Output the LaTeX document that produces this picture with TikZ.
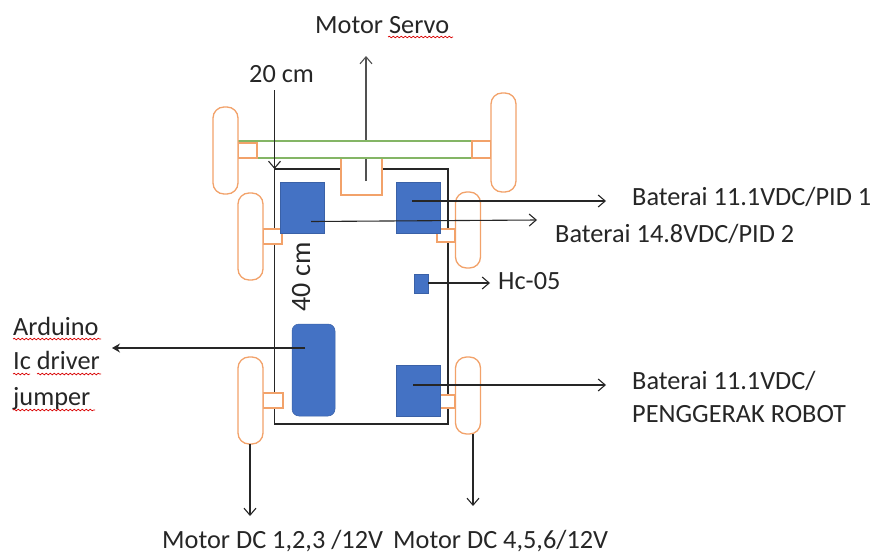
\documentclass[tikz,border=0pt]{standalone}
\usepackage{fontspec}
\setmainfont{Carlito}
\usetikzlibrary{arrows.meta,decorations.pathmorphing}
\definecolor{ors}{HTML}{F2A26A}
\definecolor{blu}{HTML}{4472C4}
\definecolor{grn}{HTML}{84B565}
\definecolor{ink}{HTML}{262626}
\tikzset{
  wheel/.style={draw=ors,fill=white,line width=1.3pt,rounded corners=11pt,minimum width=25pt,inner sep=0pt,outer sep=0pt},
  stub/.style={draw=ors,fill=white,line width=1.3pt,inner sep=0pt,outer sep=0pt},
  battery/.style={fill=blu,draw=blu!85!black,line width=.5pt,inner sep=0pt,outer sep=0pt,minimum width=44pt,minimum height=51pt},
  chassis/.style={draw=ink,line width=1.2pt,inner sep=0pt,outer sep=0pt},
  lbl/.style={text=ink,font=\fontsize{26.3pt}{28pt}\selectfont,inner sep=0pt,anchor=base west},
  conn/.style={draw=ink,line width=1.1pt,-{Straight Barb[length=7pt,width=12pt,line width=1.1pt]}},
  spell/.style={draw=red!85!black,line width=.7pt,decorate,decoration={snake,amplitude=.8pt,segment length=4pt}}
}
\begin{document}
\begin{tikzpicture}[x=1pt,y=-1pt]
\useasboundingbox (0,0) rectangle (877,554);
% chassis
\node[chassis,minimum width=173.5pt,minimum height=255pt] (body) at (361.25,296.5) {};
% servo box
\node[stub,minimum width=41pt,minimum height=37pt] (servo) at (361.5,176.5) {};
% servo arrow
\coordinate (servoA) at (366,181);
\coordinate (servoB) at (366,56);
\draw[conn,draw=ink!80] (servoA) -- (servoB);
% axle stubs on the body
\node[stub,minimum width=19pt,minimum height=15pt] (s3) at (272.5,236.5) {};
\node[stub,minimum width=18pt,minimum height=13pt] (s4) at (446,235.5) {};
\node[stub,minimum width=20pt,minimum height=15pt] (s5) at (273,400.5) {};
\node[stub,minimum width=18pt,minimum height=13pt] (s6) at (446,401.5) {};
% front axle
\node[draw=grn,fill=white,line width=1.2pt,inner sep=0pt,outer sep=0pt,minimum width=234pt,minimum height=17pt] (axle) at (355,149.5) {};
\node[stub,minimum width=19pt,minimum height=15pt] (s1) at (247.5,150.5) {};
\node[stub,minimum width=19pt,minimum height=17pt] (s2) at (481.5,149.5) {};
% wheels
\node[wheel,minimum height=87pt] (w1) at (225.5,150.5) {};
\node[wheel,minimum height=99pt] (w2) at (503.5,142.5) {};
\node[wheel,minimum height=87pt] (w3) at (250.5,236.5) {};
\node[wheel,minimum height=76pt] (w4) at (468,230) {};
\node[wheel,minimum height=87pt] (w5) at (250.5,400.5) {};
\node[wheel,minimum height=77pt] (w6) at (468,395.5) {};
% components
\node[battery] (b1) at (302,207.5) {};
\node[battery] (b2) at (418,207.5) {};
\node[battery] (b3) at (418,390.5) {};
\node[fill=blu,draw=blu!85!black,line width=.5pt,inner sep=0pt,outer sep=0pt,minimum width=14pt,minimum height=19pt] (hc) at (421,283.5) {};
\node[fill=blu,draw=blu!85!black,line width=.5pt,rounded corners=7pt,inner sep=0pt,outer sep=0pt,minimum width=43pt,minimum height=92pt] (ard) at (313.5,370) {};
% connector ends
\coordinate (a1) at (412,201); \coordinate (a2) at (606,201);
\coordinate (c1) at (311,221.5); \coordinate (c2) at (537,220);
\coordinate (d1) at (428,283); \coordinate (d2) at (490,283);
\coordinate (e1) at (305,348); \coordinate (e2) at (112,348);
\coordinate (f1) at (413,385); \coordinate (f2) at (606,385);
\coordinate (g2) at (250,516); \coordinate (h2) at (473,506);
\coordinate (dim1) at (274.5,90); \coordinate (dim2) at (274.5,169);
\draw[conn] (a1) -- (a2);
\draw[conn] (c1) -- (c2);
\draw[conn] (d1) -- (d2);
\draw[draw=ink,line width=1.1pt,-{Stealth[length=8pt,width=9pt]}] (e1) -- (e2);
\draw[conn] (f1) -- (f2);
\draw[conn] (w5.south -| g2) -- (g2);
\draw[conn] (w6.south -| h2) -- (h2);
\draw[conn] (dim1) -- (dim2);
% labels
\node[lbl] (tServo) at (315,33) {Motor Servo};
\node[lbl] (t20) at (249,82) {20 cm};
\node[lbl] (tB1) at (632,205) {Baterai 11.1VDC/PID 1};
\node[lbl] (tB2) at (555,242) {Baterai 14.8VDC/PID 2};
\node[lbl] (tHc) at (498,289) {Hc-05};
\node[lbl] (tB3) at (632,389) {Baterai 11.1VDC/};
\node[lbl] (tB4) at (632,422) {PENGGERAK ROBOT};
\node[lbl] (tA1) at (13,335) {Arduino};
\node[lbl] (tA2) at (13,369) {Ic driver};
\node[lbl] (tA3) at (13,405) {jumper};
\node[lbl] (tM1) at (162,548) {Motor DC 1,2,3 /12V};
\node[lbl] (tM2) at (393,548) {Motor DC 4,5,6/12V};
\node[lbl,rotate=90,anchor=base,font=\fontsize{28pt}{30pt}\selectfont] (t40) at (310,277) {40 cm};
% spell-check underlines
\coordinate (u1) at (388,37); \coordinate (u2) at (453,37);
\coordinate (u3) at (13,339); \coordinate (u4) at (101,339);
\coordinate (u5) at (13,374); \coordinate (u6) at (30,374);
\coordinate (u7) at (37,374); \coordinate (u8) at (101,374);
\coordinate (u9) at (13,410); \coordinate (u10) at (95,410);
\draw[spell] (u1) -- (u2);
\draw[spell] (u3) -- (u4);
\draw[spell] (u5) -- (u6);
\draw[spell] (u7) -- (u8);
\draw[spell] (u9) -- (u10);
\end{tikzpicture}
\end{document}
